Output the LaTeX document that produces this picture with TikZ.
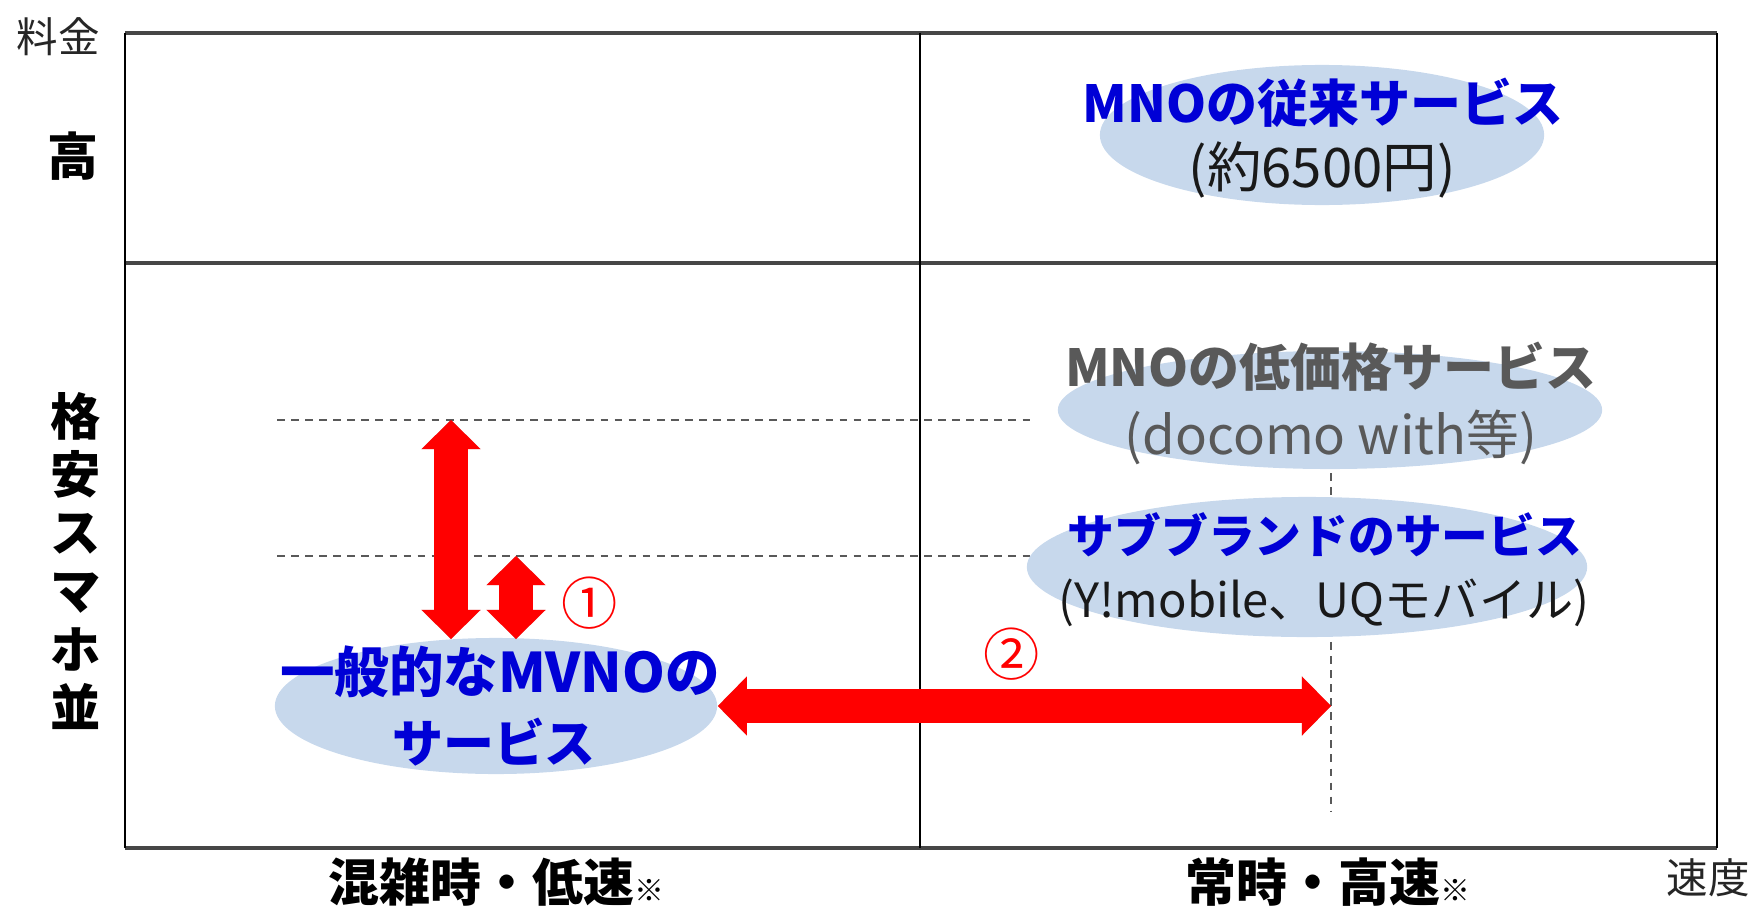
\documentclass[tikz,border=0pt]{standalone}
\usepackage{fontspec}
\setmainfont{Noto Sans CJK JP}
\usepackage{xcolor}
\usetikzlibrary{arrows.meta,positioning,shapes.geometric}

\definecolor{svcblue}{RGB}{0,0,214}
\definecolor{svcgray}{RGB}{89,89,89}
\definecolor{bubblefill}{RGB}{199,216,236}
\definecolor{framegray}{RGB}{70,70,70}

\begin{document}
\begin{tikzpicture}[x=0.01cm,y=-0.01cm]
    \tikzset{
        bubble/.style={ellipse, fill=bubblefill, draw=none, inner sep=0pt},
        hdr/.style={font=\fontsize{14.5}{16}\selectfont\bfseries, inner sep=0pt},
        sub/.style={font=\fontsize{14.5}{16}\selectfont, inner sep=0pt, text=black!90},
        guide/.style={draw=svcgray, line width=0.35pt, dash pattern=on 2.2pt off 1.8pt},
        boldaxis/.style={draw=framegray, line width=1.1pt},
        thinaxis/.style={draw=black, line width=0.6pt},
        redarr/.style={draw=red, line width=0.33cm,
            {Triangle[width=0.59cm,length=0.29cm,line width=0pt]}-{Triangle[width=0.59cm,length=0.29cm,line width=0pt]}},
        arrshadow/.style={redarr, draw=black, opacity=0.22, xshift=0.6pt, yshift=-0.9pt},
    }
    \useasboundingbox (0,0) rectangle (1751,906);

    % frame
    \draw[boldaxis] (125,33) -- (1717,33);
    \draw[boldaxis] (125,263) -- (1717,263);
    \draw[boldaxis] (125,848) -- (1717,848);
    \draw[thinaxis] (125,33) -- (125,848);
    \draw[thinaxis] (920,33) -- (920,848);
    \draw[thinaxis] (1717,33) -- (1717,848);

    % guide lines
    \coordinate (g1s) at (277,420);
    \coordinate (g1e) at (1036,420);
    \coordinate (g2s) at (277,556);
    \coordinate (g2e) at (1036,556);
    \coordinate (gvTop) at (1331,445);
    \coordinate (gvBot) at (1331,812);
    \draw[guide] (g1s) -- (g1e);
    \draw[guide] (g2s) -- (g2e);
    \draw[guide] (gvTop) -- (gvBot);

    % services
    \node[bubble, minimum width=4.44cm, minimum height=1.40cm] (mnoOld) at (1322,135) {};
    \node[bubble, minimum width=5.44cm, minimum height=1.18cm] (mnoLow) at (1330,410) {};
    \node[bubble, minimum width=5.60cm, minimum height=1.40cm] (subBrand) at (1307,567) {};
    \node[bubble, minimum width=4.42cm, minimum height=1.36cm] (mvno) at (496,706) {};

    \node[hdr, text=svcblue] (mnoOldT) at (1323,103) {MNOの従来サービス};
    \node[sub, font=\fontsize{15.5}{16}\selectfont] (mnoOldP) at (1322,170) {(約6500円)};
    \node[hdr, text=svcgray] (mnoLowT) at (1331,367) {MNOの低価格サービス};
    \node[sub, text=svcgray, font=\fontsize{15}{16}\selectfont] (mnoLowP) at (1331,437) {(docomo with等)};
    \node[hdr, text=svcblue, font=\fontsize{13.3}{16}\selectfont\bfseries] (subBrandT) at (1325,535) {サブブランドのサービス};
    \node[sub, font=\fontsize{13.4}{16}\selectfont] (subBrandP) at (1324,603) {(Y!mobile、UQモバイル)};
    \node[hdr, text=svcblue, font=\fontsize{15.5}{16}\selectfont\bfseries] (mvnoT) at (500,672) {一般的なMVNOの};
    \node[hdr, text=svcblue] (mvnoS) at (494,742) {サービス};

    % axis labels
    \node[font=\fontsize{11.8}{12}\selectfont, text=black!85] (priceName) at (58,37) {料金};
    \node[font=\fontsize{11.8}{12}\selectfont, text=black!85] (speedName) at (1708,878) {速度};
    \node[hdr] (high) at (73,156) {高};
    \node[font=\fontsize{14.3}{16.5}\selectfont\bfseries, align=center, inner sep=0pt] (cheap) at (76,561) {格\\安\\ス\\マ\\ホ\\並};
    \node[hdr] (slow) at (496,882) {混雑時・低速{\fontsize{8.5}{9}\selectfont ※}};
    \node[hdr] (fast) at (1328,882) {常時・高速{\fontsize{8.5}{9}\selectfont ※}};

    % arrows
    \coordinate (bigTop) at (451,420);
    \coordinate (bigBot) at (451,639);
    \coordinate (smTop) at (516,556);
    \coordinate (smBot) at (516,639);
    \coordinate (wideEnd) at (mvno.east -| gvTop);
    \draw[arrshadow] (bigTop) -- (bigBot);
    \draw[arrshadow] (smTop) -- (smBot);
    \draw[arrshadow] (mvno.east) -- (wideEnd);
    \draw[redarr] (bigTop) -- (bigBot);
    \draw[redarr] (smTop) -- (smBot);
    \draw[redarr] (mvno.east) -- (wideEnd);

    \node[font=\fontsize{16}{16}\selectfont, text=red, inner sep=0pt] (one) at (590,603) {①};
    \node[font=\fontsize{16}{16}\selectfont, text=red, inner sep=0pt] (two) at (1012,654) {②};
\end{tikzpicture}
\end{document}
